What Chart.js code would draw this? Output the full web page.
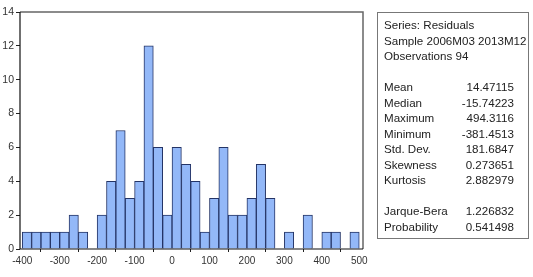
<!DOCTYPE html>
<html>
<head>
<meta charset="utf-8">
<script src="https://cdn.jsdelivr.net/npm/chart.js@4.4.1/dist/chart.umd.min.js"></script>
<style>
  body { margin: 0; background: #fff; }
  #wrap { position: relative; width: 533px; height: 277px; }
  #stats {
    position: absolute; left: 377px; top: 12px; width: 152px; height: 227px;
    border: 1px solid #777; box-sizing: border-box;
    font-family: "Liberation Sans", Arial, sans-serif; font-size: 11.6px; color: #222;
    padding: 4px 0 0 6px;
  }
  #stats .row { height: 15.5px; line-height: 15.5px; white-space: nowrap; }
  #stats .row .v { position: absolute; right: 14px; }
</style>
</head>
<body>
<div id="wrap">
  <canvas id="chart" width="533" height="277"></canvas>
  <div id="stats"></div>
</div>
<script>
// Histogram bins (lower edge, width 25) and counts
const binStarts = [-400, -375, -350, -325, -300, -275, -250, -225, -200, -175, -150, -125,
  -100, -75, -50, -25, 0, 25, 50, 75, 100, 125, 150, 175, 200, 225, 250, 275, 300, 325,
  350, 375, 400, 425, 450, 475];
const counts = [1, 1, 1, 1, 1, 2, 1, 0, 2, 4, 7, 3,
  4, 12, 6, 2, 6, 5, 4, 1, 3, 6, 2, 2, 3, 5, 3, 0, 1, 0,
  2, 0, 1, 1, 0, 1];
const binWidth = 25;
const xTicks = [-400, -300, -200, -100, 0, 100, 200, 300, 400, 500];
const yTicks = [0, 2, 4, 6, 8, 10, 12, 14];

const headerLines = ['Series: Residuals', 'Sample 2006M03 2013M12', 'Observations 94'];
const statLabels = ['Mean', 'Median', 'Maximum', 'Minimum', 'Std. Dev.', 'Skewness', 'Kurtosis'];
const statValues = ['14.47115', '-15.74223', '494.3116', '-381.4513', '181.6847', '0.273651', '2.882979'];
const testLabels = ['Jarque-Bera', 'Probability'];
const testValues = ['1.226832', '0.541498'];

// stats box
const stats = document.getElementById('stats');
function addRow(label, value) {
  const r = document.createElement('div');
  r.className = 'row';
  r.innerHTML = '<span>' + label + '</span>' + (value ? '<span class="v">' + value + '</span>' : '');
  stats.appendChild(r);
}
headerLines.forEach(l => addRow(l));
addRow('&nbsp;');
statLabels.forEach((l, i) => addRow(l, statValues[i]));
addRow('&nbsp;');
testLabels.forEach((l, i) => addRow(l, testValues[i]));

// frame around the plot area
const framePlugin = {
  id: 'frame',
  afterDatasetsDraw(chart) {
    const { ctx, chartArea: a } = chart;
    ctx.save();
    ctx.strokeStyle = '#666';
    ctx.lineWidth = 1.5;
    ctx.beginPath();
    ctx.moveTo(a.left, a.top);
    ctx.lineTo(a.right, a.top);
    ctx.lineTo(a.right, a.bottom);
    ctx.stroke();
    ctx.strokeStyle = '#111';
    ctx.lineWidth = 1.2;
    ctx.beginPath();
    ctx.moveTo(a.left, a.top);
    ctx.lineTo(a.left, a.bottom);
    ctx.lineTo(a.right, a.bottom);
    ctx.stroke();
    ctx.restore();
  }
};

new Chart(document.getElementById('chart'), {
  type: 'bar',
  data: {
    datasets: [{
      data: binStarts.map((b, i) => ({ x: b + binWidth / 2, y: counts[i] })),
      backgroundColor: '#93b8f8',
      borderColor: '#243466',
      borderWidth: 1,
      barPercentage: 1,
      categoryPercentage: 1,
      grouped: false
    }]
  },
  options: {
    responsive: false,
    animation: false,
    layout: { padding: { top: 12, right: 170, left: 0, bottom: 0 } },
    plugins: { legend: { display: false }, tooltip: { enabled: false } },
    scales: {
      x: {
        type: 'linear',
        offset: false,
        min: -406,
        max: 510,
        afterBuildTicks: s => { s.ticks = xTicks.map(v => ({ value: v })); },
        afterFit: s => { s.height = 28; },
        grid: { display: true, drawOnChartArea: false, drawTicks: true, tickLength: 3, color: '#222' },
        border: { display: false },
        ticks: {
          color: '#333',
          font: { family: 'Liberation Sans, Arial', size: 10 },
          padding: 3,
          maxRotation: 0,
          autoSkip: false
        }
      },
      y: {
        min: 0,
        max: 14,
        afterBuildTicks: s => { s.ticks = yTicks.map(v => ({ value: v })); },
        afterFit: s => { s.width = 20; },
        grid: { display: true, drawOnChartArea: false, drawTicks: true, tickLength: 4, color: '#222' },
        border: { display: false },
        ticks: {
          color: '#333',
          font: { family: 'Liberation Sans, Arial', size: 10.5 },
          padding: 2
        }
      }
    }
  },
  plugins: [framePlugin]
});
</script>
</body>
</html>
